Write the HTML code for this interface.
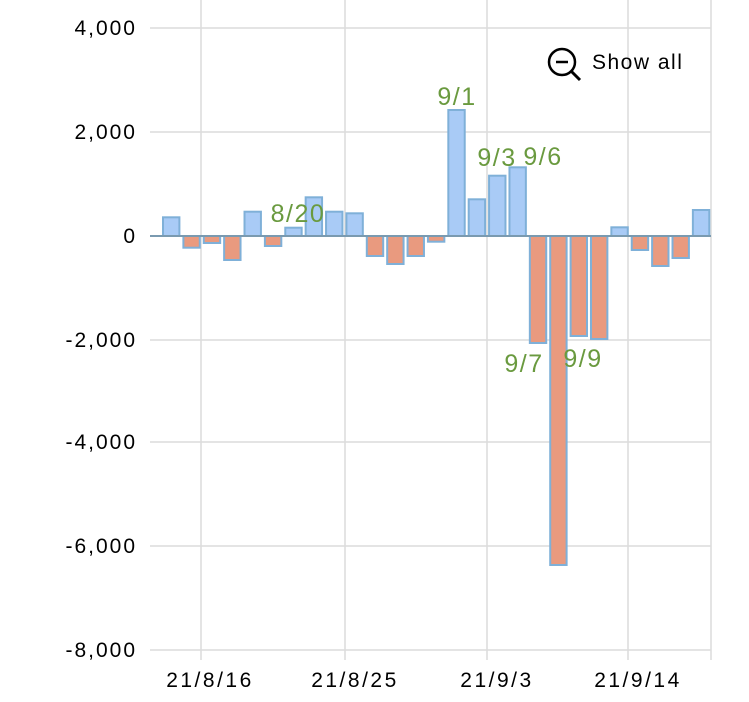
<!DOCTYPE html>
<html><head><style>body{margin:0;background:#fff}svg{display:block}</style></head><body>
<svg width="749" height="702" xmlns="http://www.w3.org/2000/svg" font-family="Liberation Sans, sans-serif">
<g stroke="#dcdcdc" stroke-width="1.5">
<line x1="150" y1="28" x2="711" y2="28"/><line x1="150" y1="132" x2="711" y2="132"/>
<line x1="150" y1="340" x2="711" y2="340"/><line x1="150" y1="442" x2="711" y2="442"/><line x1="150" y1="546" x2="711" y2="546"/><line x1="150" y1="650" x2="711" y2="650"/>
<line x1="201" y1="0" x2="201" y2="660"/><line x1="345" y1="0" x2="345" y2="660"/><line x1="487" y1="0" x2="487" y2="660"/><line x1="628" y1="0" x2="628" y2="660"/>
<line x1="711" y1="0" x2="711" y2="660"/>
</g>
<g font-size="21" fill="#000" text-anchor="end" letter-spacing="2">
<text x="137" y="35">4,000</text><text x="137" y="139">2,000</text><text x="137" y="243">0</text>
<text x="137" y="347">-2,000</text><text x="137" y="449">-4,000</text><text x="137" y="553">-6,000</text><text x="137" y="657">-8,000</text>
</g>
<g font-size="21" fill="#000" text-anchor="middle" letter-spacing="2.5">
<text x="210" y="687">21/8/16</text><text x="355" y="687">21/8/25</text><text x="497" y="687">21/9/3</text><text x="638" y="687">21/9/14</text>
</g>
<g stroke="#7fb0d8" stroke-width="2">
<rect x="163" y="217.3" width="16.4" height="18.7" fill="#a9cbf6"/>
<rect x="183.38" y="236" width="16.4" height="11.7" fill="#e99a7f"/>
<rect x="203.76" y="236" width="16.4" height="7" fill="#e99a7f"/>
<rect x="224.14" y="236" width="16.4" height="24" fill="#e99a7f"/>
<rect x="244.52" y="211.7" width="16.4" height="24.3" fill="#a9cbf6"/>
<rect x="264.9" y="236" width="16.4" height="10" fill="#e99a7f"/>
<rect x="285.28" y="227.7" width="16.4" height="8.3" fill="#a9cbf6"/>
<rect x="305.66" y="197.3" width="16.4" height="38.7" fill="#a9cbf6"/>
<rect x="326.04" y="211.7" width="16.4" height="24.3" fill="#a9cbf6"/>
<rect x="346.42" y="213.3" width="16.4" height="22.7" fill="#a9cbf6"/>
<rect x="366.8" y="236" width="16.4" height="20" fill="#e99a7f"/>
<rect x="387.18" y="236" width="16.4" height="28" fill="#e99a7f"/>
<rect x="407.56" y="236" width="16.4" height="20" fill="#e99a7f"/>
<rect x="427.94" y="236" width="16.4" height="5.7" fill="#e99a7f"/>
<rect x="448.32" y="110" width="16.4" height="126" fill="#a9cbf6"/>
<rect x="468.7" y="199.3" width="16.4" height="36.7" fill="#a9cbf6"/>
<rect x="489.08" y="175.7" width="16.4" height="60.3" fill="#a9cbf6"/>
<rect x="509.46" y="167.3" width="16.4" height="68.7" fill="#a9cbf6"/>
<rect x="529.84" y="236" width="16.4" height="107" fill="#e99a7f"/>
<rect x="550.22" y="236" width="16.4" height="329" fill="#e99a7f"/>
<rect x="570.6" y="236" width="16.4" height="100" fill="#e99a7f"/>
<rect x="590.98" y="236" width="16.4" height="103" fill="#e99a7f"/>
<rect x="611.36" y="227.3" width="16.4" height="8.7" fill="#a9cbf6"/>
<rect x="631.74" y="236" width="16.4" height="14" fill="#e99a7f"/>
<rect x="652.12" y="236" width="16.4" height="30" fill="#e99a7f"/>
<rect x="672.5" y="236" width="16.4" height="22" fill="#e99a7f"/>
<rect x="692.88" y="210" width="16.4" height="26" fill="#a9cbf6"/>
</g>
<line x1="150" y1="236" x2="711" y2="236" stroke="#7a9ab0" stroke-width="2"/>
<g font-size="25" fill="#6a9a3f" text-anchor="middle" letter-spacing="1.5">
<text x="298" y="222">8/20</text><text x="457" y="105">9/1</text><text x="497" y="166">9/3</text><text x="543" y="165">9/6</text>
<text x="524" y="372">9/7</text><text x="583" y="367">9/9</text>
</g>
<circle cx="562" cy="62" r="13" fill="none" stroke="#000" stroke-width="2.5"/>
<line x1="556" y1="62" x2="568" y2="62" stroke="#000" stroke-width="2.5"/>
<line x1="571" y1="71" x2="580" y2="80" stroke="#000" stroke-width="3"/>
<text x="592" y="69" font-size="21" fill="#000" letter-spacing="1.5">Show all</text>
</svg>
</body></html>
